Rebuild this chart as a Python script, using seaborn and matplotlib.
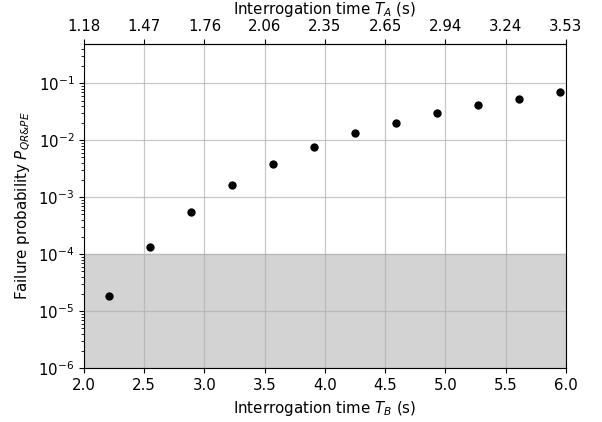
import matplotlib
matplotlib.use("Agg")
import matplotlib.pyplot as plt
import pandas as pd
import seaborn as sns

# Interrogation time T_B (s) and failure probability
t_b = [2.21, 2.55, 2.89, 3.23, 3.57, 3.91, 4.25, 4.59, 4.93, 5.27, 5.61, 5.95]
p_fail = [1.83e-5, 1.33e-4, 5.5e-4, 1.66e-3, 3.84e-3, 7.6e-3,
          1.33e-2, 2.01e-2, 3.05e-2, 4.22e-2, 5.37e-2, 7.13e-2]

# bottom ticks and the matching T_A labels on top
xticks = [2.0, 2.5, 3.0, 3.5, 4.0, 4.5, 5.0, 5.5, 6.0]
ta_labels = ["1.18", "1.47", "1.76", "2.06", "2.35", "2.65", "2.94", "3.24", "3.53"]

# acceptable region shaded in grey
p_band = (1e-6, 1e-4)

df = pd.DataFrame({"T_B": t_b, "P": p_fail})

plt.rcParams["font.size"] = 10.8

fig = plt.figure(figsize=(6.02, 4.22), dpi=100)
ax = fig.add_axes([0.1395, 0.1273, 0.8005, 0.7684])

ax.axhspan(*p_band, color="lightgrey", zorder=0)
sns.scatterplot(data=df, x="T_B", y="P", color="black", s=36, linewidth=0, ax=ax, zorder=3)

ax.set_yscale("log")
ax.set_xlim(2.0, 6.0)
ax.set_ylim(1e-6, 0.49)
ax.set_xticks(xticks)
ax.grid(True, which="major", color="#b0b0b0", alpha=0.7, linewidth=0.9)

ax.set_xlabel("Interrogation time $T_B$ (s)")
ax.set_ylabel("Failure probability $P_{QR&PE}$")

top = ax.secondary_xaxis("top")
top.set_xticks(xticks)
top.set_xticklabels(ta_labels)
top.set_xlabel("Interrogation time $T_A$ (s)")

fig.savefig("out.png", dpi=100)
